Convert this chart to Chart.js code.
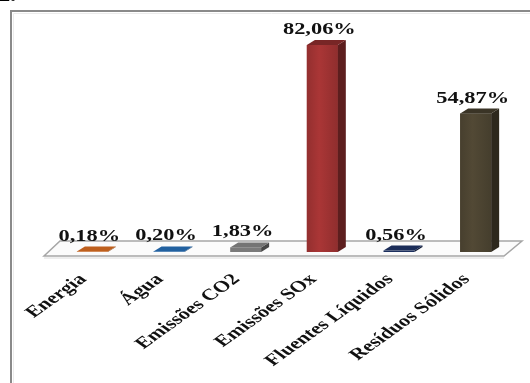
<!DOCTYPE html>
<html>
<head>
<meta charset="utf-8">
<script src="https://cdn.jsdelivr.net/npm/chart.js@4.4.1/dist/chart.umd.min.js"></script>
<style>
  html, body { margin: 0; padding: 0; background: #fff; }
  canvas { display: block; }
</style>
</head>
<body>
<canvas id="impactChart" width="530" height="383"></canvas>
<script>
// Categories and percentage values
const categories = ['Energia', 'Água', 'Emissões CO2', 'Emissões SOx', 'Fluentes Líquidos', 'Resíduos Sólidos'];
const percentages = [0.18, 0.20, 1.83, 82.06, 0.56, 54.87];

// Front-face colour of each bar
const barColors = ['#c8641e', '#2466a8', '#7a7a7a', '#a03333', '#1c2f5e', '#4d4532'];

// Depth of the 3D bars
const DEPTH_X = 8, DEPTH_Y = -5;
const STRETCH = 1.4; // text is drawn horizontally widened
const LABEL_FONT = 'bold 16px "Liberation Serif", "Times New Roman", serif';

function shade(hex, f) {
    const n = parseInt(hex.slice(1), 16);
    const r = Math.min(255, Math.round(((n >> 16) & 255) * f));
    const g = Math.min(255, Math.round(((n >> 8) & 255) * f));
    const b = Math.min(255, Math.round((n & 255) * f));
    return 'rgb(' + r + ',' + g + ',' + b + ')';
}

function formatPct(v) {
    return v.toFixed(2).replace('.', ',') + '%';
}

// Frame around the chart and the floor under the bars
const floorPlugin = {
    id: 'floor',
    beforeDatasetsDraw(chart) {
        const ctx = chart.ctx;
        const area = chart.chartArea;
        const base = chart.scales.y.getPixelForValue(0);

        ctx.save();
        // outer frame (only left and top edges are inside the canvas)
        ctx.strokeStyle = '#8a8a8a';
        ctx.lineWidth = 2;
        ctx.beginPath();
        ctx.moveTo(11, chart.height);
        ctx.lineTo(11, 11);
        ctx.lineTo(chart.width, 11);
        ctx.stroke();
        ctx.strokeStyle = '#ececec';
        ctx.lineWidth = 1;
        ctx.beginPath();
        ctx.moveTo(13.5, chart.height);
        ctx.lineTo(13.5, 13.5);
        ctx.lineTo(chart.width, 13.5);
        ctx.stroke();

        // floor parallelogram
        const fy = base + 4;
        const left = area.left - 10, right = area.right - 10;
        ctx.fillStyle = '#fbfbfb';
        ctx.strokeStyle = '#a6a6a6';
        ctx.lineWidth = 1.5;
        ctx.beginPath();
        ctx.moveTo(left, fy);
        ctx.lineTo(right, fy);
        ctx.lineTo(right + 18, fy - 15);
        ctx.lineTo(left + 16, fy - 15);
        ctx.closePath();
        ctx.fill();
        ctx.stroke();
        ctx.strokeStyle = '#dcdcdc';
        ctx.lineWidth = 1;
        ctx.beginPath();
        ctx.moveTo(left, fy + 2);
        ctx.lineTo(right, fy + 2);
        ctx.stroke();
        ctx.restore();
    }
};

// Front shading, side and top faces, value labels and rotated category names
const bar3dPlugin = {
    id: 'bar3d',
    afterDatasetsDraw(chart) {
        const ctx = chart.ctx;
        const meta = chart.getDatasetMeta(0);
        ctx.save();
        meta.data.forEach((bar, i) => {
            const p = bar.getProps(['x', 'y', 'base', 'width'], true);
            const l = p.x - p.width / 2, r = p.x + p.width / 2;
            const top = Math.min(p.y, p.base - 0.5);
            const col = barColors[i];

            // soft horizontal shading on the front face
            if (p.base - top > 8) {
                const g = ctx.createLinearGradient(l, 0, r, 0);
                g.addColorStop(0, shade(col, 0.92));
                g.addColorStop(0.4, shade(col, 1.06));
                g.addColorStop(1, shade(col, 0.9));
                ctx.fillStyle = g;
                ctx.fillRect(l, top, p.width, p.base - top);
            }

            // side face
            ctx.fillStyle = shade(col, 0.58);
            ctx.beginPath();
            ctx.moveTo(r, top);
            ctx.lineTo(r + DEPTH_X, top + DEPTH_Y);
            ctx.lineTo(r + DEPTH_X, p.base + DEPTH_Y);
            ctx.lineTo(r, p.base);
            ctx.closePath();
            ctx.fill();

            // top face
            ctx.fillStyle = shade(col, p.base - top < 8 ? 0.95 : 0.75);
            ctx.beginPath();
            ctx.moveTo(l, top);
            ctx.lineTo(r, top);
            ctx.lineTo(r + DEPTH_X, top + DEPTH_Y);
            ctx.lineTo(l + DEPTH_X, top + DEPTH_Y);
            ctx.closePath();
            ctx.fill();

            // value label
            ctx.save();
            ctx.translate(p.x - 3, top - 11);
            ctx.scale(STRETCH, 1);
            ctx.font = LABEL_FONT;
            ctx.fillStyle = '#111';
            ctx.textAlign = 'center';
            ctx.textBaseline = 'alphabetic';
            ctx.fillText(formatPct(percentages[i]), 0, 0);
            ctx.restore();

            // category name, 45 degrees before widening
            ctx.save();
            ctx.translate(p.x - 9, p.base + 25);
            ctx.scale(STRETCH, 1);
            ctx.rotate(-Math.PI / 4);
            ctx.font = LABEL_FONT;
            ctx.fillStyle = '#111';
            ctx.textAlign = 'right';
            ctx.textBaseline = 'middle';
            ctx.fillText(categories[i], 0, 0);
            ctx.restore();
        });

        // cut-off heading fragment at the top left
        ctx.save();
        ctx.translate(-1, 1);
        ctx.scale(STRETCH, 1);
        ctx.font = 'bold 16px "Liberation Serif", serif';
        ctx.fillStyle = '#000';
        ctx.fillText('2.', 0, 0);
        ctx.restore();

        ctx.restore();
    }
};

new Chart(document.getElementById('impactChart'), {
    type: 'bar',
    data: {
        labels: categories,
        datasets: [{
            data: percentages,
            backgroundColor: barColors,
            borderWidth: 0,
            categoryPercentage: 1,
            barPercentage: 0.404
        }]
    },
    options: {
        responsive: false,
        animation: false,
        layout: {
            padding: { left: 54, right: 16, top: 25, bottom: 131 }
        },
        scales: {
            x: { display: false },
            y: { display: false, min: 0, max: 90 }
        },
        plugins: {
            legend: { display: false },
            tooltip: { enabled: false }
        }
    },
    plugins: [floorPlugin, bar3dPlugin]
});
</script>
</body>
</html>
